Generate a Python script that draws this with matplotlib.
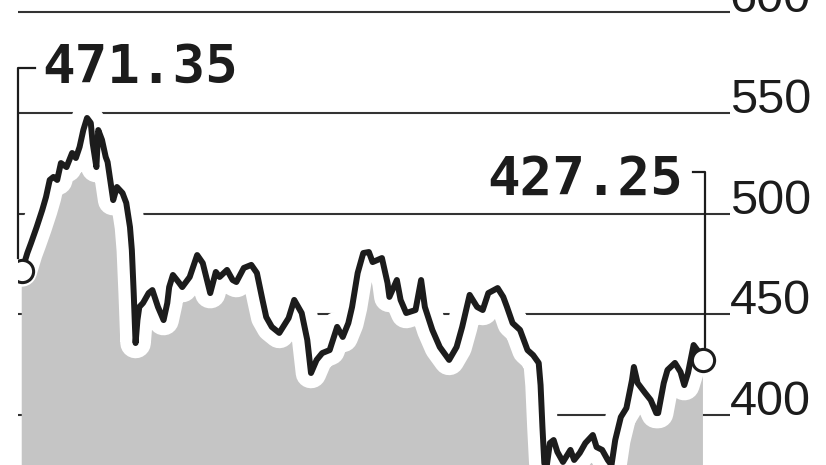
import matplotlib.pyplot as plt

# share price, calendar day offset from start of period
days = [0, 3, 5, 8, 11, 13, 15, 17, 19, 21, 24, 27, 29, 31, 33, 35, 37, 38, 40, 41,
        43, 45, 46, 48, 49, 51, 54, 56, 58, 59, 60, 61, 62, 63, 65, 68, 70, 73, 76, 78,
        79, 81, 84, 86, 90, 94, 97, 101, 104, 106, 110, 113, 115, 119, 123, 126, 129, 131, 134, 138,
        143, 146, 150, 153, 155, 158, 161, 165, 169, 172, 175, 177, 180, 183, 186, 188, 193, 196, 197, 201,
        203, 206, 211, 214, 216, 220, 224, 229, 233, 236, 240, 244, 247, 250, 255, 258, 260, 263, 267, 271,
        274, 277, 278, 279, 280, 281, 283, 285, 287, 290, 294, 296, 299, 302, 306, 308, 311, 314, 316, 318,
        321, 324, 327, 328, 330, 334, 337, 340, 341, 344, 346, 350, 353, 355, 357, 360, 362, 365]
prices = [471.35, 480.5, 485.5, 493.4, 501.9, 508.3, 516.8, 518.3, 516.8, 525.2,
          523.2, 530.2, 527.7, 533.2, 541.6, 547.6, 545.1, 535.2, 523.2, 541.6,
          536.7, 528.2, 525.7, 513.3, 506.8, 513.3, 510.3, 505.4, 493.4, 482.0,
          460.6, 435.8, 447.2, 453.7, 455.7, 460.6, 462.1, 453.7, 447.2, 455.7,
          463.6, 469.6, 466.1, 463.6, 468.6, 479.5, 475.5, 460.6, 471.1, 468.6,
          472.1, 467.1, 466.1, 473.1, 474.6, 470.6, 457.2, 448.7, 443.8, 440.8,
          448.2, 457.2, 450.7, 437.3, 420.9, 427.4, 430.8, 432.3, 443.8, 438.8,
          445.7, 453.7, 470.6, 480.5, 481.0, 476.0, 478.0, 465.6, 458.7, 467.1,
          457.2, 450.7, 452.2, 467.1, 453.7, 442.3, 433.8, 427.4, 433.8, 443.8,
          459.7, 453.7, 452.2, 460.6, 463.1, 458.7, 453.7, 445.7, 442.3, 432.3,
          429.8, 425.9, 414.9, 394.1, 376.2, 372.7, 386.1, 387.6, 381.7, 376.7,
          382.7, 377.7, 381.2, 386.1, 390.1, 384.1, 382.7, 377.7, 375.2, 387.6,
          399.0, 403.5, 417.4, 423.9, 415.9, 411.0, 407.5, 401.0, 401.0, 415.9,
          422.4, 425.9, 421.4, 414.9, 420.9, 434.8, 432.3, 427.25]
grid_levels = [400, 450, 500, 550, 600]

ink = '#1c1c1c'

fig = plt.figure(figsize=(8.26, 4.65), dpi=100)
ax = fig.add_axes([18 / 826, 0, 712 / 826, 1])
ax.set_xlim(-2, 379.5)
ax.set_ylim(375.2, 606.2)

# gray area, wide white halo, black line
ax.fill_between(days, prices, 300, color='#c5c5c5', lw=0, zorder=2)
ax.plot(days, prices, color='white', lw=22, solid_joinstyle='round',
        solid_capstyle='round', zorder=3)
ax.plot(days, prices, color=ink, lw=4.3, solid_joinstyle='round', zorder=4)
ax.plot([days[0], days[-1]], [prices[0], prices[-1]], 'o', ms=16,
        mfc='white', mec=ink, mew=2.2, zorder=5)

# first / last value callouts
ax.plot([-2, -2, 7], [prices[0] + 6.5, 572.4, 572.4], color=ink, lw=1.6,
        clip_on=False, zorder=4)
ax.text(10.8, 565, f"{prices[0]:.2f}", ha='left', va='baseline',
        fontsize=39, fontweight='bold', family='DejaVu Sans Mono', color=ink)
ax.plot([359.6, 366, 366], [520.8, 520.8, prices[-1] + 6.5], color=ink, lw=1.6,
        clip_on=False, zorder=4)
ax.text(354.3, 509.3, f"{prices[-1]:.2f}", ha='right', va='baseline',
        fontsize=39, fontweight='bold', family='DejaVu Sans Mono', color=ink)

# axis styling
ax.set_yticks(grid_levels)
ax.yaxis.tick_right()
ax.tick_params(axis='y', length=0, pad=0, labelsize=35, labelcolor=ink)
ax.set_xticks([])
for lab in ax.get_yticklabels():
    lab.set_fontfamily('Liberation Sans')
    lab.set_va('baseline')
ax.grid(axis='y', color='#333333', lw=1.5)
ax.set_axisbelow(True)
for s in ax.spines.values():
    s.set_visible(False)

fig.savefig('out.png', dpi=100)
